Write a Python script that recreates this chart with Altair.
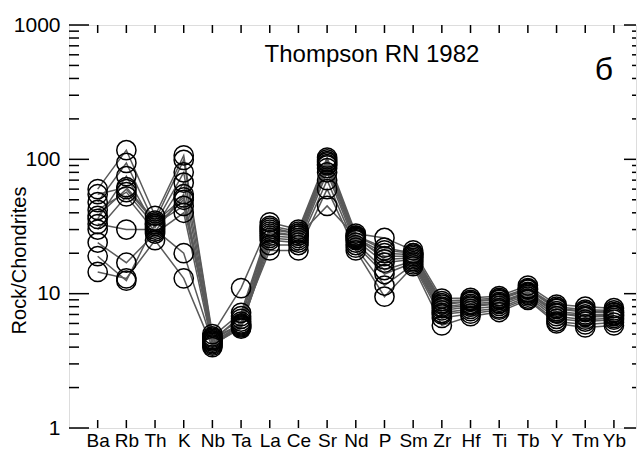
import altair as alt
import pandas as pd

elements = ["Ba", "Rb", "Th", "K", "Nb", "Ta", "La", "Ce", "Sr", "Nd",
            "P", "Sm", "Zr", "Hf", "Ti", "Tb", "Y", "Tm", "Yb"]

# chondrite-normalised values per sample
s1 = [60, 117, 38, 107, 5.0, 11, 34, 30, 103, 28, 26, 21, 9.2, 9.3, 9.6, 11.5, 8.3, 8.0, 7.8]
s2 = [55, 62, 35, 99, 4.8, 7.2, 32, 29, 100, 27, 21, 20, 8.8, 9.0, 9.3, 11.0, 8.0, 7.6, 7.5]
s3 = [48, 94, 33, 80, 4.6, 6.5, 30, 28, 97, 26, 20, 19.5, 8.3, 8.7, 9.0, 10.7, 7.7, 7.3, 7.2]
s4 = [42, 57, 32, 50, 4.5, 6.0, 28, 27, 95, 25.5, 19, 19, 8.0, 8.4, 8.7, 10.3, 7.4, 7.0, 7.0]
s5 = [36, 75, 31, 67, 4.4, 5.8, 27, 26, 90, 25, 17, 18, 7.5, 8.0, 8.4, 10.0, 7.1, 6.7, 6.8]
s6 = [33, 30, 30, 20, 4.3, 5.6, 26, 25, 86, 24, 15, 17.5, 7.2, 7.7, 8.1, 9.8, 6.8, 6.4, 6.6]
s7 = [30, 53, 29, 55, 4.2, 5.5, 25, 24, 80, 23, 14, 17, 7.0, 7.4, 7.8, 9.5, 6.5, 6.2, 6.4]
s8 = [24, 17, 28, 40, 4.1, 5.7, 23, 23, 70, 22, 11.5, 16.5, 6.6, 7.1, 7.6, 9.2, 6.2, 5.9, 6.1]
s9 = [14.5, 13, 25, 13, 4.0, 6.2, 21, 21, 60, 21, 9.5, 16, 5.8, 6.8, 7.3, 9.0, 6.0, 5.6, 5.8]
s10 = [19, 12.5, 33, 45, 4.7, 5.9, 29, 27, 45, 26.5, 18, 18.5, 7.8, 8.2, 8.5, 10.2, 7.2, 6.8, 6.9]
s11 = [38, 60, 34, 52, 4.5, 6.8, 31, 28, 92, 27, 22, 20, 8.5, 8.8, 9.1, 10.8, 7.8, 7.4, 7.3]
samples = [s1, s2, s3, s4, s5, s6, s7, s8, s9, s10, s11]

y_major = [1, 10, 100, 1000]
y_minor = [m * d for d in [1, 10, 100] for m in range(2, 10)]

rows = []
for si, s in enumerate(samples):
    for i, (el, v) in enumerate(zip(elements, s)):
        rows.append({"sample": f"S{si+1}", "idx": i, "element": el, "value": v})
df = pd.DataFrame(rows)

W, H = 567, 403
label_expr = "[" + ",".join(f"'{e}'" for e in elements) + "][round(datum.value)]"

xscale = alt.Scale(domain=[-1, 18.77], nice=False, zero=False)
yscale = alt.Scale(type="log", domain=[1, 1000], nice=False)

x_axis = alt.Axis(values=list(range(len(elements))), labelExpr=label_expr,
                  title=None, tickSize=0, domain=False, grid=False,
                  labelFontSize=19, labelColor="black", labelFont="Liberation Sans",
                  labelPadding=3, labelFlush=False, labelOverlap=False,
                  labelBound=False)
y_axis = alt.Axis(values=y_major, format="d", title="Rock/Chondrites",
                  tickSize=0, domain=False, grid=False, labelFontSize=21,
                  labelColor="black", labelFont="Liberation Sans", labelPadding=9,
                  labelFlush=False, labelOverlap=False,
                  titleFontSize=20, titleFont="Liberation Sans", titleColor="black",
                  titleFontWeight="normal", titleX=-50, titleY=235,
                  titleAngle=270, titleAlign="center", titleBaseline="middle")

base = alt.Chart(df)

lines = base.mark_line(color="#5a5a5a", strokeWidth=1.5).encode(
    x=alt.X("idx:Q", scale=xscale, axis=x_axis),
    y=alt.Y("value:Q", scale=yscale, axis=y_axis),
    detail="sample:N",
)

points = base.mark_point(shape="circle", filled=False, size=370, color="black",
                         strokeWidth=1.5, opacity=1).encode(
    x=alt.X("idx:Q", scale=xscale, axis=x_axis),
    y=alt.Y("value:Q", scale=yscale, axis=y_axis),
)

ymaj_df = pd.DataFrame({"v": y_major})
ymin_df = pd.DataFrame({"v": y_minor})
xt_df = pd.DataFrame({"i": list(range(len(elements)))})

def yrule(d, x1, x2):
    return alt.Chart(d).mark_rule(color="black", strokeWidth=1.5).encode(
        y=alt.Y("v:Q", scale=yscale, axis=y_axis), x=alt.value(x1), x2=alt.value(x2))

def xrule(y1, y2):
    return alt.Chart(xt_df).mark_rule(color="black", strokeWidth=1.5).encode(
        x=alt.X("i:Q", scale=xscale, axis=x_axis), y=alt.value(y1), y2=alt.value(y2))

left_major = yrule(ymaj_df, 0, 20)
left_minor = yrule(ymin_df, 0, 10)
right_major = yrule(ymaj_df, W, W - 12)
right_minor = yrule(ymin_df, W, W - 4)
top_ticks = xrule(0, 8)
bottom_ticks = xrule(H, H - 8)

title_txt = alt.Chart(pd.DataFrame({"t": ["Thompson RN 1982"]})).mark_text(
    fontSize=24, font="Liberation Sans", color="black", align="center").encode(
    text="t:N", x=alt.value(303), y=alt.value(30))
b_txt = alt.Chart(pd.DataFrame({"t": ["б"]})).mark_text(
    fontSize=32, font="Liberation Sans", color="black", align="center").encode(
    text="t:N", x=alt.value(535), y=alt.value(45))

chart = alt.layer(
    lines, points, left_major, left_minor, right_major, right_minor,
    top_ticks, bottom_ticks, title_txt, b_txt
).properties(
    width=W, height=H,
    autosize=alt.AutoSizeParams(type="none"),
    padding={"left": 69, "top": 25, "right": 3, "bottom": 25},
).configure_view(
    stroke="black", strokeWidth=1.5
).configure(
    background="white"
)

chart.save("out.html", embed_options={"renderer": "svg", "actions": False})
